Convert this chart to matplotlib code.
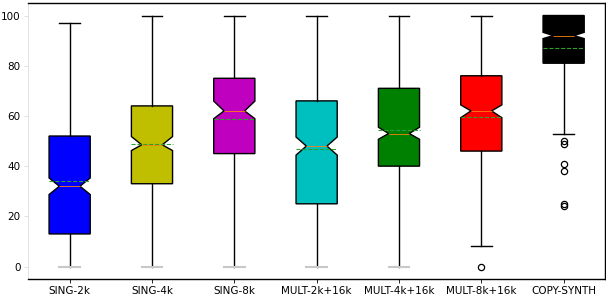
import matplotlib
matplotlib.use("Agg")
import matplotlib.pyplot as plt

labels = ["SING-2k", "SING-4k", "SING-8k", "MULT-2k+16k", "MULT-4k+16k", "MULT-8k+16k", "COPY-SYNTH"]
q1 = [13, 33, 45, 25, 40, 46, 81]
med = [32, 48.5, 62, 48, 53, 62, 92]
q3 = [52, 64, 75, 66, 71, 76, 100]
whislo = [0, 0, 0, 0, 0, 8, 53]
whishi = [97, 100, 100, 100, 100, 100, 100]
means = [34.1, 48.7, 58.7, 46.7, 54.2, 59.7, 86.9]
cilo = [28.7, 46.2, 58.9, 44.4, 50.7, 59.3, 90.8]
cihi = [35.3, 51.8, 65.9, 51.6, 55.5, 64.4, 93.3]
fliers = [[], [], [], [], [], [0], [50, 49, 41, 38, 25, 24]]
colors = ["b", "y", "m", "c", "g", "r", "k"]

stats = []
for i in range(len(labels)):
    stats.append(dict(label=labels[i], q1=q1[i], med=med[i], q3=q3[i],
                      whislo=whislo[i], whishi=whishi[i], mean=means[i],
                      cilo=cilo[i], cihi=cihi[i], fliers=fliers[i]))

fig = plt.figure(figsize=(6.06, 2.96), dpi=100)
ax = fig.add_axes([0.047, 0.057, 0.951, 0.933])
bp = ax.bxp(stats, shownotches=True, patch_artist=True, showmeans=True, meanline=True,
            medianprops=dict(color="#ff7f0e", linewidth=0.6),
            meanprops=dict(color="#2ca02c", linestyle="--", linewidth=0.8),
            boxprops=dict(linewidth=1.0),
            flierprops=dict(marker="o", markersize=4.5, markerfacecolor="none",
                            markeredgecolor="k", markeredgewidth=0.9))
for patch, c in zip(bp["boxes"], colors):
    patch.set_facecolor(c)
    patch.set_edgecolor("k")
for j, cap in enumerate(bp["caps"]):
    i = j // 2
    if j % 2 == 0 and whislo[i] == 0:
        cap.set_color("#c8c8c8")
        cap.set_linewidth(1.5)

for sp in ["top", "right", "bottom"]:
    ax.spines[sp].set_linewidth(1.0)
ax.spines["left"].set_color("#dddddd")
ax.spines["left"].set_linewidth(0.6)
ax.tick_params(axis="both", labelsize=7.5, length=3, width=0.6)
ax.tick_params(axis="y", colors="#dddddd", labelcolor="black", pad=2.5)
ax.tick_params(axis="x", pad=2)
ax.set_yticks([0, 20, 40, 60, 80, 100])

fig.savefig("out.png", dpi=100)
